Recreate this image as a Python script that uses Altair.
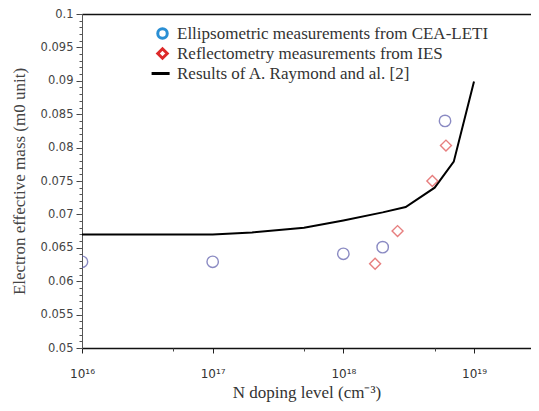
import altair as alt
import pandas as pd
import math

# Ellipsometric measurements (CEA-LETI)
ell_x = [1e16, 1e17, 1e18, 2.0e18, 6.0e18]
ell_y = [0.0629, 0.0629, 0.0641, 0.0651, 0.0840]
# Reflectometry measurements (IES)
ref_x = [1.75e18, 2.6e18, 4.8e18, 6.1e18]
ref_y = [0.0626, 0.0675, 0.0750, 0.0803]
# Results of A. Raymond and al.
line_x = [1e16, 1e17, 2e17, 5e17, 1e18, 2e18, 3e18, 5e18, 7e18, 1e19]
line_y = [0.0670, 0.0670, 0.0673, 0.0680, 0.0691, 0.0703, 0.0711, 0.0740, 0.0779, 0.0899]

series = ["Ellipsometric measurements from CEA-LETI",
          "Reflectometry measurements from IES",
          "Results of A. Raymond and al. [2]"]
legend_colors = ["#2a8fd4", "#dd2a2a", "#000000"]

x_major = [1e16, 1e17, 1e18, 1e19]
x_labels = ["10¹⁶", "10¹⁷", "10¹⁸", "10¹⁹"]
x_minor = [5e16, 5e17, 5e18]
y_major = [round(0.05 + 0.005 * i, 3) for i in range(11)]
y_minor = [round(0.05 + 0.001 * i, 3) for i in range(51)]

ell = pd.DataFrame({"x": ell_x, "y": ell_y})
ref = pd.DataFrame({"x": ref_x, "y": ref_y})
ln = pd.DataFrame({"x": line_x, "y": line_y})
leg = pd.DataFrame({"x": [1e17] * 3, "y": [0.06] * 3, "s": series})

xs = alt.Scale(type="log", domain=[1e16, 2.73e19])
ys = alt.Scale(domain=[0.05, 0.1])

label_expr = ""
for v, l in zip(x_major, x_labels):
    label_expr += f"abs(log(datum.value)/LN10 - {int(round(math.log10(v)))}) < 0.01 ? '{l}' : "
label_expr += "''"

tick_font = "DejaVu Sans"
title_font = "Liberation Serif"

line = alt.Chart(ln).mark_line(color="black", strokeWidth=2, clip=True).encode(
    x=alt.X("x:Q", scale=xs, axis=alt.Axis(
        orient="bottom", values=x_major, labelExpr=label_expr, grid=False,
        labelFlush=False,
        title="N doping level (cm⁻³)", titleFont=title_font, titleFontSize=17,
        titleFontWeight="normal", titleColor="#333", titlePadding=5,
        labelFont=tick_font, labelFontSize=12, labelColor="#333", labelPadding=15,
        tickSize=5, tickColor="#222", domainColor="#111", domainWidth=1.5)),
    y=alt.Y("y:Q", scale=ys, axis=alt.Axis(
        orient="left", values=y_major, format=".3~f", grid=False,
        title="Electron effective mass (m0 unit)", titleFont=title_font,
        titleFontSize=17, titleFontWeight="normal", titleColor="#444",
        titlePadding=12, labelFont=tick_font, labelFontSize=11.5,
        labelColor="#444", labelPadding=3, tickSize=6, tickColor="#444",
        domainColor="#555")),
)

pts_e = alt.Chart(ell).mark_point(shape="circle", filled=False, size=130,
                                  strokeWidth=1.4, color="#5a5aaa", clip=True).encode(
    x=alt.X("x:Q", scale=xs, axis=None), y=alt.Y("y:Q", scale=ys, axis=None))

pts_r = alt.Chart(ref).mark_point(shape="diamond", filled=False, size=120,
                                  strokeWidth=1.4, color="#dd4a4a", clip=True).encode(
    x=alt.X("x:Q", scale=xs, axis=None), y=alt.Y("y:Q", scale=ys, axis=None))

legend_layer = alt.Chart(leg).mark_point(filled=False, opacity=0).encode(
    x=alt.X("x:Q", scale=xs, axis=None),
    y=alt.Y("y:Q", scale=ys, axis=None),
    color=alt.Color("s:N", scale=alt.Scale(domain=series, range=legend_colors),
                    legend=alt.Legend(orient="none", legendX=72, legendY=11, title=None,
                                      padding=0, symbolOpacity=1, symbolStrokeWidth=3,
                                      symbolSize=90, labelFont=title_font,
                                      labelFontSize=17, labelColor="#333",
                                      labelOffset=6, rowPadding=-3.5, labelLimit=400)),
    shape=alt.Shape("s:N", scale=alt.Scale(domain=series,
                                           range=["circle", "diamond", "M-2.3,0L1.5,0"])),
)

minor = alt.Chart(ln).mark_point(opacity=0).encode(
    x=alt.X("x:Q", scale=xs, axis=alt.Axis(orient="bottom", values=x_minor, labels=False,
                                           domain=False, grid=False, tickSize=3,
                                           tickColor="#444", title=None)),
    y=alt.Y("y:Q", scale=ys, axis=alt.Axis(orient="left", values=y_minor, labels=False,
                                           domain=False, grid=False, tickSize=3,
                                           tickColor="#555", title=None)),
)

top = alt.Chart(ln).mark_point(opacity=0).encode(
    x=alt.X("x:Q", scale=xs, axis=alt.Axis(orient="top", labels=False, ticks=False,
                                           grid=False, domainColor="#111",
                                           domainWidth=1.5, title=None)),
    y=alt.Y("y:Q", scale=ys, axis=None),
)

chart = alt.layer(line, pts_e, pts_r, legend_layer, minor, top).resolve_axis(
    x="independent", y="independent"
).properties(
    width=449, height=334,
    autosize=alt.AutoSizeParams(type="none"),
    padding={"left": 74, "top": 6, "right": 0, "bottom": 55},
).configure_view(stroke="#cfcfcf", strokeWidth=1).configure_axis(
    titleFont=title_font
).configure(background="white")

chart.save("out.html", embed_options={"renderer": "svg", "actions": False})
